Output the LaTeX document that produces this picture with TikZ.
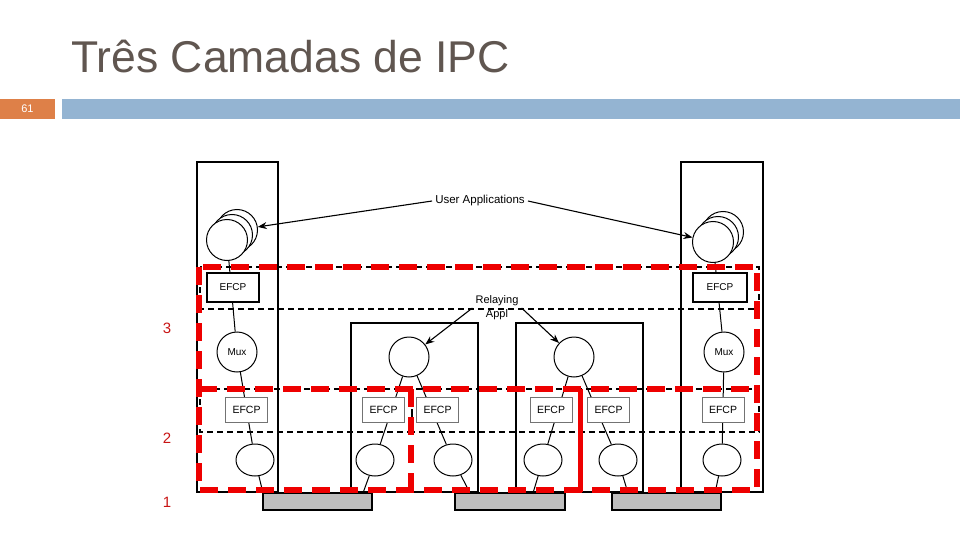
\documentclass[tikz,border=0pt]{standalone}
\usepackage{fontspec}
\setmainfont{Liberation Sans}
\usetikzlibrary{shapes.geometric,arrows.meta}
\definecolor{titlegray}{RGB}{96,86,80}
\definecolor{numorange}{RGB}{222,128,72}
\definecolor{barblue}{RGB}{148,180,210}
\definecolor{layerred}{RGB}{200,20,20}
\definecolor{difred}{RGB}{238,0,0}
\definecolor{lanfill}{RGB}{190,190,190}

\begin{document}
\begin{tikzpicture}[x=1pt,y=-1pt,
    sysbox/.style={draw,line width=1.8pt},
    difbox/.style={draw,line width=1.2pt,dash pattern=on 6pt off 4pt},
    reddash/.style={draw=difred,line width=5.5pt,dash pattern=on 18pt off 10pt},
    app/.style={circle,draw,fill=white,minimum size=41pt,inner sep=0pt,line width=1pt},
    ipc/.style={circle,draw,fill=white,minimum size=40pt,inner sep=0pt,line width=1pt,font=\fontsize{10}{12}\selectfont},
    port/.style={ellipse,draw,fill=white,minimum width=38pt,minimum height=32pt,inner sep=0pt,line width=1pt},
    efcp/.style={draw,fill=white,line width=1.5pt,inner sep=0pt,minimum width=52pt,minimum height=29pt,font=\fontsize{10}{12}\selectfont},
    efcpb/.style={draw=black!55,fill=white,line width=1pt,inner sep=0pt,minimum width=42pt,minimum height=25pt,font=\fontsize{10.5}{12}\selectfont},
    lan/.style={draw,fill=lanfill,line width=1.8pt,inner sep=0pt,minimum height=17pt},
    link/.style={line width=1pt},
    arr/.style={line width=1.1pt,-{Stealth[length=9pt,width=7pt]}},
    lbl/.style={font=\fontsize{11.5}{14}\selectfont,inner sep=3pt,align=center}]
  \useasboundingbox (0,0) rectangle (960,540);

  % slide header
  \node[anchor=base west,inner sep=0pt,text=titlegray,font=\fontsize{44.5}{50}\selectfont] (title) at (71,73) {Três Camadas de IPC};
  \node[fill=numorange,minimum width=55pt,minimum height=20pt,inner sep=0pt,text=white,font=\fontsize{11}{12}\selectfont] (slideno) at (27.5,109) {61};
  \fill[barblue] (62,99) rectangle (960,119);

  % systems
  \draw[sysbox] (197,162) rectangle (278,492);
  \draw[sysbox] (681,162) rectangle (763,492);
  \draw[sysbox] (351,323) rectangle (478,492);
  \draw[sysbox] (516,323) rectangle (643,492);

  % DIF boundaries
  \draw[difbox] (200,267) rectangle (759,309);
  \draw[difbox] (200,389) rectangle (412,432);
  \draw[difbox] (412,389) rectangle (759,432);

  % user applications
  \node[app] (uaL3) at (237,230) {};
  \node[app] (uaL2) at (232,235) {};
  \node[app] (uaL) at (227,240) {};
  \node[app] (uaR3) at (723,232) {};
  \node[app] (uaR2) at (718,237) {};
  \node[app] (uaR) at (713,242) {};

  % IPC processes
  \node[ipc] (muxL) at (237,352) {Mux};
  \node[ipc] (muxR) at (724,352) {Mux};
  \node[ipc] (relA) at (409,357) {};
  \node[ipc] (relB) at (574,357) {};

  \node[port] (lowA) at (255,460) {};
  \node[port] (lowB) at (375,460) {};
  \node[port] (lowC) at (453,460) {};
  \node[port] (lowD) at (543,460) {};
  \node[port] (lowE) at (618,460) {};
  \node[port] (lowF) at (722,460) {};

  \coordinate (tapA) at (263,493);
  \coordinate (tapB) at (363,493);
  \coordinate (tapC) at (470,493);
  \coordinate (tapD) at (533,493);
  \coordinate (tapE) at (628,493);
  \coordinate (tapF) at (715,493);

  % bindings
  \draw[link] (uaL) -- (muxL);
  \draw[link] (muxL) -- (lowA);
  \draw[link] (lowA) -- (tapA);
  \draw[link] (uaR) -- (muxR);
  \draw[link] (muxR) -- (lowF);
  \draw[link] (lowF) -- (tapF);
  \draw[link] (relA) -- (lowB);
  \draw[link] (relA) -- (lowC);
  \draw[link] (lowB) -- (tapB);
  \draw[link] (lowC) -- (tapC);
  \draw[link] (relB) -- (lowD);
  \draw[link] (relB) -- (lowE);
  \draw[link] (lowD) -- (tapD);
  \draw[link] (lowE) -- (tapE);

  % EFCP instances
  \node[efcp] (efL) at (233,287.5) {EFCP};
  \node[efcp,minimum width=54pt] (efR) at (720,287.5) {EFCP};
  \node[efcpb] (efA) at (246.5,409.5) {EFCP};
  \node[efcpb] (efB) at (383.5,409.5) {EFCP};
  \node[efcpb] (efC) at (437.5,409.5) {EFCP};
  \node[efcpb] (efD) at (551,409.5) {EFCP};
  \node[efcpb] (efE) at (608.5,409.5) {EFCP};
  \node[efcpb] (efF) at (723,409.5) {EFCP};

  % physical media
  \node[lan,minimum width=109pt] (lanA) at (317.5,501.5) {};
  \node[lan,minimum width=110pt] (lanB) at (510,501.5) {};
  \node[lan,minimum width=109pt] (lanC) at (666.5,501.5) {};

  % labels
  \node[lbl] (ua) at (480,201) {User Applications};
  \draw[arr] (ua.west) -- (uaL3);
  \draw[arr] (ua.east) -- (uaR);
  \node[lbl,font=\fontsize{11}{14}\selectfont] (ra) at (497,308) {Relaying\\Appl};
  \draw[arr] (ra.west) -- (relA);
  \draw[arr] (ra.east) -- (relB);

  % layers
  \draw[reddash] (199,267) rectangle (757,490);
  \draw[reddash] (199,389) -- (757,389);
  \draw[reddash] (411,389) -- (411,490);
  \draw[draw=difred,line width=5pt] (580,389) -- (580,492);
  \node[text=layerred,font=\fontsize{15}{18}\selectfont] (lay3) at (167,328) {3};
  \node[text=layerred,font=\fontsize{15}{18}\selectfont] (lay2) at (167,438) {2};
  \node[text=layerred,font=\fontsize{15}{18}\selectfont] (lay1) at (167,502) {1};
\end{tikzpicture}
\end{document}
